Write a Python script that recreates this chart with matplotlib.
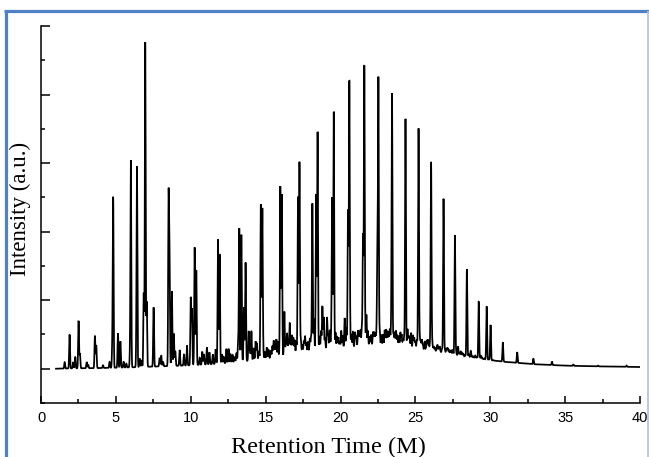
import numpy as np
import matplotlib
matplotlib.use("Agg")
import matplotlib.pyplot as plt
from matplotlib.lines import Line2D
from matplotlib.ticker import MultipleLocator

# ---- data (retention time in minutes, intensity a.u.) ----
# baseline (hump) under the peaks
base_t = [1.0, 2.0, 4.0, 6.0, 8.0, 10.0, 12.0, 14.0, 16.0, 18.0, 20.0, 22.0, 24.0,
          26.0, 28.0, 30.0, 31.0, 33.0, 35.0, 37.0, 40.0]
base_y = [0.0, 0.01, 0.02, 0.04, 0.07, 0.10, 0.15, 0.24, 0.35, 0.48, 0.58, 0.65, 0.63,
          0.52, 0.37, 0.25, 0.20, 0.13, 0.09, 0.07, 0.05]

# main peaks: apex time and apex intensity
peak_t = [1.91, 2.51, 3.60, 4.82, 5.14, 6.00, 6.41, 6.96, 7.52, 8.52, 8.58, 8.74,
          8.87, 10.00, 10.26, 10.37, 11.82, 11.93, 13.24, 13.38, 13.55, 13.66, 14.68,
          14.78, 15.98, 16.08, 17.16, 17.26, 18.12, 18.37, 18.47, 19.44, 19.55, 20.50,
          20.59, 21.50, 21.59, 22.46, 22.53, 23.44, 24.34, 25.21, 26.05, 26.88, 27.64,
          28.44, 29.23, 29.76, 30.02, 30.84, 31.80, 32.88, 34.12, 35.55, 37.20, 39.10]
peak_h = [1.00, 1.40, 0.96, 4.96, 1.03, 6.05, 5.52, 9.52, 1.79, 4.91, 3.20, 2.26,
          1.01, 2.07, 3.54, 2.87, 3.77, 3.34, 4.09, 3.91, 1.80, 3.10, 4.79,
          4.62, 5.32, 5.09, 5.01, 6.03, 4.82, 5.09, 6.92, 4.99, 7.51, 4.60,
          8.38, 3.89, 8.82, 3.12, 8.41, 8.02, 7.29, 7.01, 6.03, 4.96, 3.89,
          2.90, 1.96, 1.82, 1.28, 0.77, 0.48, 0.29, 0.21, 0.13, 0.09, 0.09]

# small peaks ("grass")
minor_t = [1.58, 2.15, 2.29, 2.60, 3.05, 3.15, 3.69, 4.14, 4.58, 4.76, 5.30, 5.52,
           5.70, 5.94, 6.38, 6.59, 6.72, 6.86, 7.06, 7.92, 8.03, 8.15, 8.97, 9.26,
           9.55, 9.75, 10.08, 10.60, 10.77, 10.88, 11.08, 11.25, 11.47, 11.66, 12.08,
           12.38, 12.53, 12.66, 12.93, 13.16, 13.87, 14.05, 14.33, 14.42, 14.83,
           15.20, 15.54, 15.72, 15.83, 16.25, 16.43, 16.61, 16.76, 16.94, 17.45,
           17.72, 17.95, 18.23, 18.79, 18.88, 19.10, 19.28, 19.77, 19.95, 20.28,
           20.39, 20.73, 20.97, 21.17, 21.33, 21.73, 21.95, 22.17, 22.33, 22.73,
           22.95, 23.13, 23.29, 23.62, 23.80, 24.00, 24.17, 24.47, 24.62, 24.84,
           25.00, 25.35, 25.50, 25.74, 25.90, 26.22, 26.40, 26.55, 26.68, 27.07,
           27.23, 27.40, 27.85, 28.03, 28.20, 28.70, 28.90, 29.00, 29.40, 29.50,
           30.20, 30.40, 31.10, 31.30,
           # denser grass in the hump
           12.20, 12.80, 13.05, 13.95, 14.20, 14.55, 14.95, 15.08, 15.35, 15.45,
           15.63, 16.35, 16.52, 16.68, 16.85, 17.05, 17.35, 17.55, 17.63, 17.83,
           18.03, 18.60, 18.70, 18.97, 19.18, 19.37, 19.67, 19.86, 20.05, 20.15,
           20.65, 20.83, 21.05, 21.25, 21.42, 21.65, 21.83, 22.05, 22.25, 22.40,
           22.62, 22.84, 23.04, 23.21, 23.37, 23.54, 23.71, 23.90, 24.08, 24.25,
           24.55, 24.72, 24.92, 25.10, 25.28, 25.43, 25.62, 25.82, 25.98, 26.13,
           26.30, 26.47, 26.62, 26.78, 26.97, 27.15, 27.32, 27.50, 27.72, 27.95,
           28.12, 28.32, 28.57, 28.80, 29.10, 29.32, 29.62, 29.90]
minor_h = [0.19, 0.20, 0.34, 0.45, 0.20, 0.12, 0.68, 0.10, 0.20, 0.60, 0.80, 0.20,
           0.15, 0.35, 0.70, 0.30, 0.25, 2.20, 1.95, 0.32, 0.38, 0.20, 0.50, 0.55,
           0.43, 0.68, 1.74, 0.32, 0.50, 0.42, 0.62, 0.48, 0.42, 0.57, 0.42,
           0.58, 0.57, 0.42, 0.35, 0.72, 1.10, 1.09, 0.80, 0.75, 0.60,
           0.55, 0.82, 0.86, 0.80, 1.67, 1.03, 1.33, 0.98, 0.84, 0.70,
           0.76, 0.89, 1.46, 1.82, 1.50, 1.50, 1.13, 0.93, 0.80, 1.48,
           1.19, 1.00, 1.07, 1.12, 1.13, 1.57, 0.93, 1.07, 1.03, 0.98,
           1.12, 1.10, 1.14, 1.07, 0.98, 1.06, 0.87, 1.16, 0.87, 0.97,
           0.80, 0.80, 0.70, 0.80, 0.70, 0.65, 0.55, 0.58, 0.50, 0.60,
           0.55, 0.53, 0.65, 0.50, 0.43, 0.52, 0.36, 0.38, 0.37, 0.30,
           0.25, 0.20, 0.15, 0.15,
           0.35, 0.40, 0.45, 0.55, 0.60, 0.50, 0.48, 0.62, 0.52, 0.66,
           0.70, 0.75, 0.82, 0.70, 0.90, 0.78, 0.85, 0.80, 0.95, 0.78,
           0.92, 0.95, 1.10, 0.90, 1.00, 0.88, 1.05, 0.92, 1.10, 0.95,
           0.90, 1.08, 0.95, 1.00, 1.15, 0.95, 1.10, 0.98, 1.05, 0.95,
           1.12, 1.00, 1.15, 0.98, 1.08, 1.02, 1.10, 0.95, 1.00, 0.92,
           0.95, 1.05, 0.90, 0.85, 0.95, 0.85, 0.78, 0.85, 0.72, 0.75,
           0.62, 0.70, 0.65, 0.58, 0.55, 0.60, 0.52, 0.56, 0.48, 0.45,
           0.46, 0.40, 0.42, 0.36, 0.34, 0.32, 0.30, 0.28]

x_ticks = [0, 5, 10, 15, 20, 25, 30, 35, 40]
x_label = "Retention Time (M)"
y_label = "Intensity (a.u.)"

# ---- build the trace from the peak table ----
t = np.arange(1.0, 40.0001, 0.004)
baseline = np.interp(t, base_t, base_y)
signal = baseline.copy()
for pt, ph in zip(peak_t + minor_t, peak_h + minor_h):
    amp = ph - np.interp(pt, base_t, base_y)
    signal += max(amp, 0) * np.exp(-0.5 * ((t - pt) / 0.028) ** 2)

# ---- figure ----
W, H = 649, 457
fig = plt.figure(figsize=(W / 100, H / 100), dpi=100)
fig.patch.set_facecolor("white")
ax = fig.add_axes([41 / W, (H - 403) / H, (640 - 41) / W, (403 - 26) / H])

ax.plot(t, signal, color="black", lw=1.25, solid_joinstyle="miter")

ax.set_xlim(0, 40)
ax.set_ylim(-1, 10)
ax.set_xticks(x_ticks)
ax.xaxis.set_minor_locator(MultipleLocator(2.5))
ax.yaxis.set_major_locator(MultipleLocator(2))
ax.yaxis.set_minor_locator(MultipleLocator(1))
ax.set_yticklabels([])
for s in ("top", "right"):
    ax.spines[s].set_visible(False)
for s in ("left", "bottom"):
    ax.spines[s].set_linewidth(1.1)

ax.tick_params(axis="x", which="major", direction="in", length=5, width=1.1, pad=6,
               labelsize=10.5, labelfontfamily="Liberation Sans")
ax.tick_params(axis="x", which="minor", direction="in", length=2.6, width=1.1)
ax.tick_params(axis="y", which="major", direction="in", length=6.5, width=1.1)
ax.tick_params(axis="y", which="minor", direction="in", length=3.2, width=1.1)

ax.set_xlabel(x_label, fontsize=17.5, family="Liberation Serif")
ax.xaxis.label.set_va("center")
ax.xaxis.set_label_coords((328 - 41) / (640 - 41), -(447 - 403) / (403 - 26), transform=ax.transAxes)
ax.set_ylabel(y_label, fontsize=16.5, family="Liberation Serif")
ax.yaxis.label.set_va("center")
ax.yaxis.set_label_coords(-(41 - 20) / (640 - 41), (403 - 209) / (403 - 26), transform=ax.transAxes)

# blue frame around the picture
blue = "#4f81c4"
fig.add_artist(Line2D([5.5 / W, 5.5 / W], [0, (H - 10.5) / H], color=blue, lw=2.3,
                      transform=fig.transFigure, solid_capstyle="butt"))
fig.add_artist(Line2D([4 / W, 1.0], [(H - 10.5) / H, (H - 10.5) / H], color=blue, lw=2.3,
                      transform=fig.transFigure, solid_capstyle="butt"))
fig.add_artist(Line2D([(W - 1.5) / W, (W - 1.5) / W], [0, (H - 10.5) / H], color="#a8c2e6",
                      lw=1.2, transform=fig.transFigure, solid_capstyle="butt"))

fig.savefig("out.png", dpi=100)
